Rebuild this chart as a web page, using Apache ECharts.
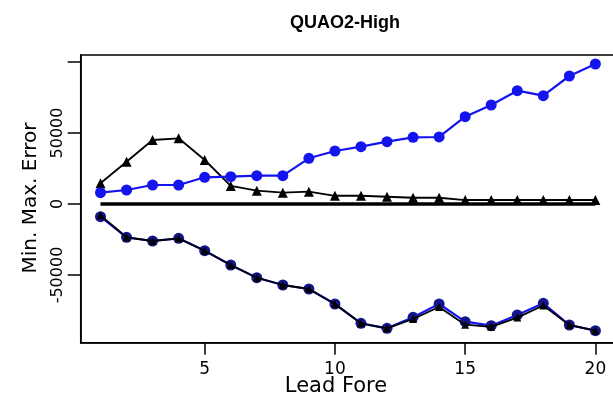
<!DOCTYPE html>
<html>
<head>
<meta charset="utf-8">
<script src="https://cdn.jsdelivr.net/npm/echarts@6/dist/echarts.min.js"></script>
<style>
  html, body { margin: 0; padding: 0; background: #fff; }
  #chart { width: 613px; height: 405px; }
</style>
</head>
<body>
<div id="chart"></div>
<script>
// Lead times (forecast horizon)
const leads = [1, 2, 3, 4, 5, 6, 7, 8, 9, 10, 11, 12, 13, 14, 15, 16, 17, 18, 19, 20];

// Maximum error, two methods
const maxErrBlue  = [7960, 9860, 13380, 13380, 18800, 19230, 19930, 19930, 32180, 37320,
                     40350, 43870, 46970, 47200, 61480, 69720, 79790, 76270, 90140, 98590];
const maxErrBlack = [14580, 29790, 45070, 46270, 30990, 12700, 9400, 8000, 8700, 5800,
                     5800, 5100, 4400, 4400, 2800, 2800, 2800, 2800, 2800, 2800];

// Minimum error, two methods
const minErrBlue  = [-8940, -23450, -26060, -24180, -32890, -42960, -51900, -57040, -59860, -70420,
                     -84040, -87540, -79790, -70420, -82870, -85690, -78170, -69930, -85210, -89220];
const minErrBlack = [-8000, -23450, -26060, -24180, -32890, -42960, -51900, -57040, -59860, -70420,
                     -84040, -87540, -81000, -72500, -85000, -86500, -80000, -71500, -85210, -89220];

// Zero reference
const baseline = [0, 0, 0, 0, 0, 0, 0, 0, 0, 0, 0, 0, 0, 0, 0, 0, 0, 0, 0, 0];

// Axis ticks and labels
const xTicks = [5, 10, 15, 20];
const yTicks = [-50000, 0, 50000, 100000];
const yLabels = [-50000, 0, 50000];

const BLUE = '#1414ee';
const NAVY = '#14148c';
const FONT = '"DejaVu Sans", sans-serif';

const pairs = (ys) => leads.map((x, i) => [x, ys[i]]);

const chart = echarts.init(document.getElementById('chart'), null, { renderer: 'canvas' });

chart.setOption({
  animation: false,
  backgroundColor: '#fff',
  title: {
    text: 'QUAO2-High',
    left: 345,
    top: 14,
    textAlign: 'center',
    padding: 0,
    textStyle: { fontFamily: '"Liberation Sans", Arial, sans-serif', fontWeight: 'bold', fontSize: 18, color: '#000' }
  },
  grid: {
    left: 80.7, top: 55, width: 534.5, height: 287.7,
    outerBoundsMode: 'none',
    show: true, borderColor: '#000', borderWidth: 1.5, backgroundColor: 'transparent'
  },
  xAxis: {
    type: 'value',
    min: 0.24, max: 20.76,
    splitLine: { show: false },
    axisLine: { show: true, onZero: false, lineStyle: { color: '#000', width: 1.5 } },
    axisTick: { show: true, customValues: xTicks, length: 12, lineStyle: { color: '#000', width: 1.5 } },
    axisLabel: {
      customValues: xTicks, margin: 18, color: '#000',
      fontFamily: FONT, fontSize: 17,
      formatter: (v) => String(v)
    }
  },
  yAxis: {
    type: 'value',
    min: -97676, max: 104930,
    splitLine: { show: false },
    axisLine: { show: true, onZero: false, lineStyle: { color: '#000', width: 1.5 } },
    axisTick: { show: true, customValues: yTicks, length: 13, lineStyle: { color: '#000', width: 1.5 } },
    axisLabel: {
      customValues: yLabels, rotate: 90, margin: 15, color: '#000',
      fontFamily: FONT, fontSize: 16,
      formatter: (v) => String(v)
    }
  },
  graphic: [
    {
      type: 'text', x: 336, y: 387,
      style: { text: 'Lead Fore', font: '21px ' + FONT, fill: '#000', align: 'center', verticalAlign: 'middle' }
    },
    {
      type: 'text', x: 31, y: 198, rotation: Math.PI / 2,
      style: { text: 'Min. Max. Error', font: '20px ' + FONT, fill: '#000', align: 'center', verticalAlign: 'middle' }
    }
  ],
  series: [
    {
      name: 'zero', type: 'line', data: pairs(baseline), z: 2,
      symbol: 'none', lineStyle: { color: '#000', width: 3.5 }
    },
    {
      name: 'max black', type: 'line', data: pairs(maxErrBlack), z: 3,
      symbol: 'triangle', symbolSize: 10,
      itemStyle: { color: '#000' }, lineStyle: { color: '#000', width: 1.8 }
    },
    {
      name: 'max blue', type: 'line', data: pairs(maxErrBlue), z: 4,
      symbol: 'circle', symbolSize: 11,
      itemStyle: { color: BLUE }, lineStyle: { color: BLUE, width: 2.2 }
    },
    {
      name: 'min blue', type: 'line', data: pairs(minErrBlue), z: 4,
      symbol: 'circle', symbolSize: 11,
      itemStyle: { color: NAVY }, lineStyle: { color: BLUE, width: 2.2 }
    },
    {
      name: 'min black', type: 'line', data: pairs(minErrBlack), z: 5,
      symbol: 'triangle', symbolSize: 8,
      itemStyle: { color: '#000' }, lineStyle: { color: '#000', width: 1.8 }
    }
  ]
});
</script>
</body>
</html>
